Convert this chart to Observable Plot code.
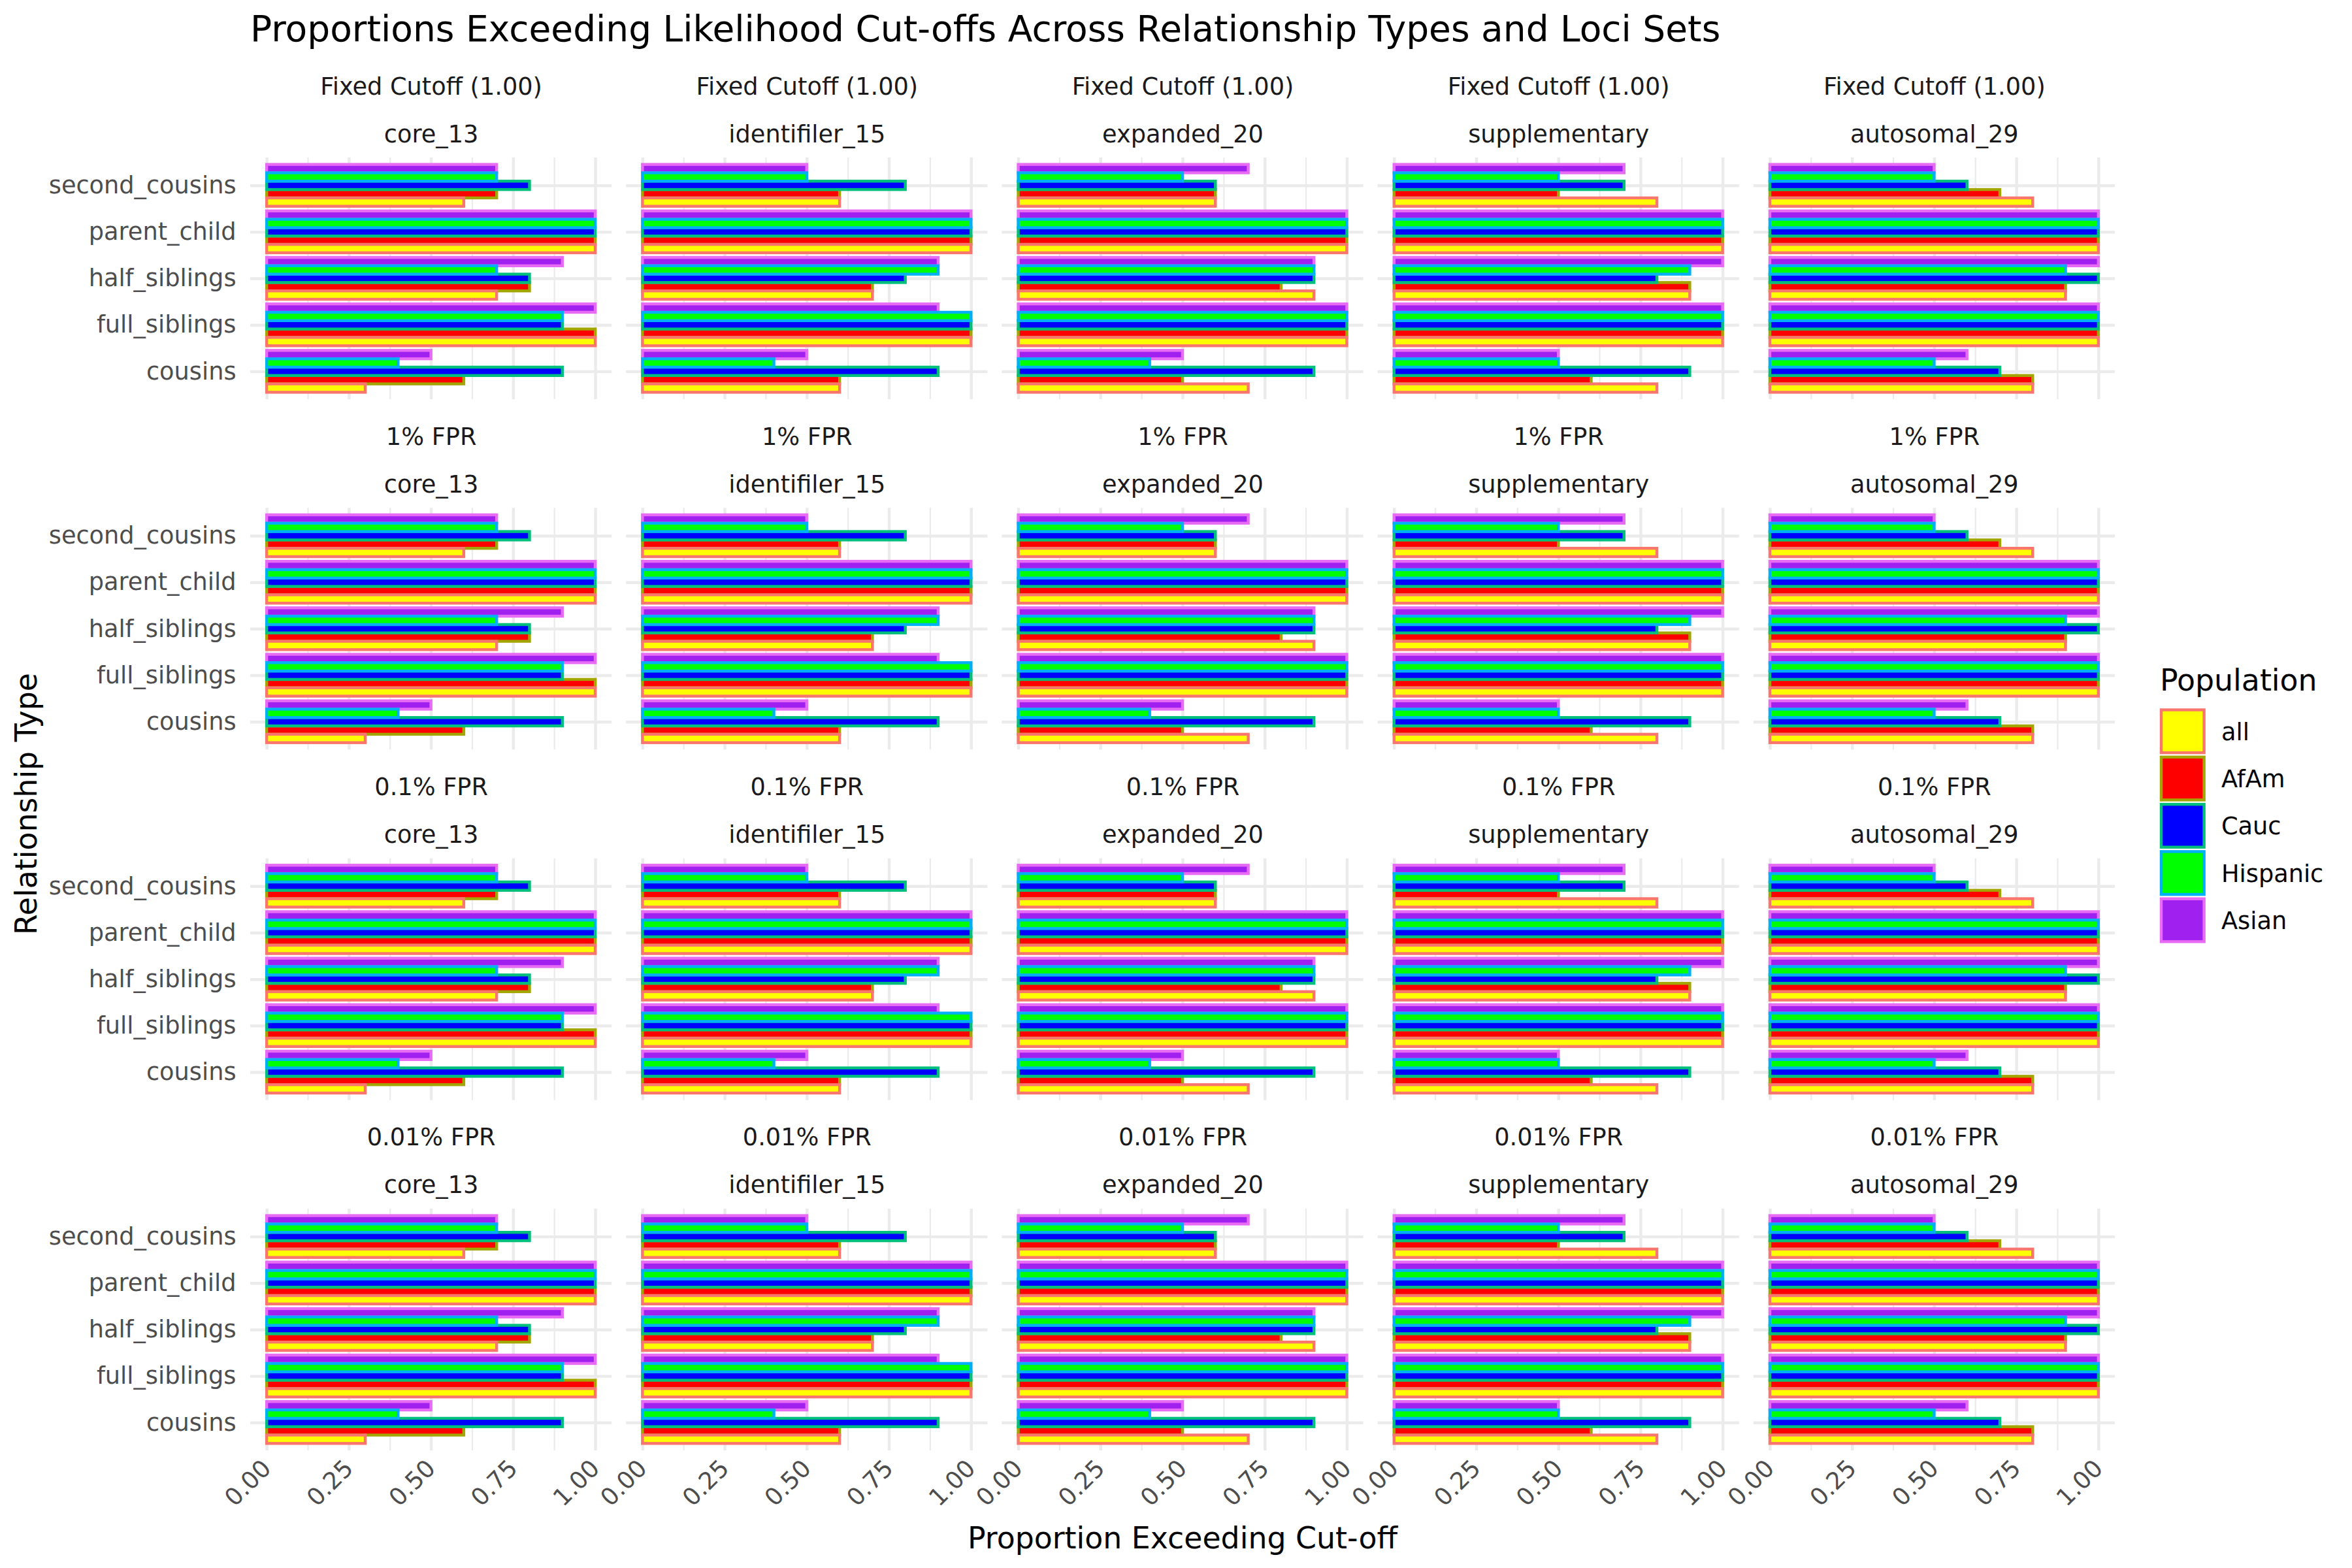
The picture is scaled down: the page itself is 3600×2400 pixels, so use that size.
<!DOCTYPE html>
<html>
<head>
<meta charset="utf-8">
<script src="https://cdn.jsdelivr.net/npm/d3@7"></script>
<script src="https://cdn.jsdelivr.net/npm/@observablehq/plot@0.6"></script>
<style>
  html, body { margin: 0; padding: 0; background: #ffffff; }
  #chart svg { display: block; }
</style>
</head>
<body>
<div id="chart"></div>
<script>
// ---------- DATA ----------
const cutoffs = ["Fixed Cutoff (1.00)", "1% FPR", "0.1% FPR", "0.01% FPR"];
const lociSets = ["core_13", "identifiler_15", "expanded_20", "supplementary", "autosomal_29"];
// top -> bottom as drawn
const relationships = ["second_cousins", "parent_child", "half_siblings", "full_siblings", "cousins"];
const populations = ["all", "AfAm", "Cauc", "Hispanic", "Asian"];
const xTicks = [0, 0.25, 0.5, 0.75, 1];
const xMinorTicks = [0.125, 0.375, 0.625, 0.875];

// proportions per population (rows: all, AfAm, Cauc, Hispanic, Asian),
// columns follow `relationships`; the same values appear under every cut-off row
const core_13 = [
  [0.6, 1.0, 0.7, 1.0, 0.3],
  [0.7, 1.0, 0.8, 1.0, 0.6],
  [0.8, 1.0, 0.8, 0.9, 0.9],
  [0.7, 1.0, 0.7, 0.9, 0.4],
  [0.7, 1.0, 0.9, 1.0, 0.5]
];
const identifiler_15 = [
  [0.6, 1.0, 0.7, 1.0, 0.6],
  [0.6, 1.0, 0.7, 1.0, 0.6],
  [0.8, 1.0, 0.8, 1.0, 0.9],
  [0.5, 1.0, 0.9, 1.0, 0.4],
  [0.5, 1.0, 0.9, 0.9, 0.5]
];
const expanded_20 = [
  [0.6, 1.0, 0.9, 1.0, 0.7],
  [0.6, 1.0, 0.8, 1.0, 0.5],
  [0.6, 1.0, 0.9, 1.0, 0.9],
  [0.5, 1.0, 0.9, 1.0, 0.4],
  [0.7, 1.0, 0.9, 1.0, 0.5]
];
const supplementary = [
  [0.8, 1.0, 0.9, 1.0, 0.8],
  [0.5, 1.0, 0.9, 1.0, 0.6],
  [0.7, 1.0, 0.8, 1.0, 0.9],
  [0.5, 1.0, 0.9, 1.0, 0.5],
  [0.7, 1.0, 1.0, 1.0, 0.5]
];
const autosomal_29 = [
  [0.8, 1.0, 0.9, 1.0, 0.8],
  [0.7, 1.0, 0.9, 1.0, 0.8],
  [0.6, 1.0, 1.0, 1.0, 0.7],
  [0.5, 1.0, 0.9, 1.0, 0.5],
  [0.5, 1.0, 1.0, 1.0, 0.6]
];
const lociValues = {core_13, identifiler_15, expanded_20, supplementary, autosomal_29};

const fillColors = ["#FFFF00", "#FF0000", "#0000FF", "#00FF00", "#A020F0"];
const strokeColors = ["#F8766D", "#A3A500", "#00BF7D", "#00B0F6", "#E76BF3"];

// ---------- TABLE ----------
const rows = [];
for (const cutoff of cutoffs)
  for (const loci of lociSets)
    populations.forEach((pop, p) =>
      relationships.forEach((rel, r) =>
        rows.push({cutoff, loci, population: pop, relationship: rel, value: lociValues[loci][p][r]})));
const strips = [];
for (const cutoff of cutoffs) for (const loci of lociSets) strips.push({cutoff, loci});

// ---------- LAYOUT ----------
const W = 3600, H = 2400;
const mL = 383, mR = 363, mT = 241, mB = 180;
const fxPadInner = 22 / 575;
const fyPadInner = 0.31;
const fyStep = (H - mT - mB) / (cutoffs.length - fyPadInner);
const facetH = fyStep * (1 - fyPadInner);
const yPadInner = 0.1, yPadOuter = 0.15;
const yStep = facetH / (relationships.length - yPadInner + 2 * yPadOuter);
const band = yStep * (1 - yPadInner);
const sub = band / populations.length;
const FONT = "DejaVu Sans";
const LW = 4.44;

// draw order (later on top) and stacking position (Asian at top of each group)
const drawOrder = ["AfAm", "Asian", "Cauc", "Hispanic", "all"];
const topToBottom = [...populations].reverse();

const barMarks = drawOrder.map(pop => {
  const k = topToBottom.indexOf(pop);
  const p = populations.indexOf(pop);
  return Plot.barX(rows.filter(d => d.population === pop), {
    x1: 0, x2: "value", y: "relationship", fx: "loci", fy: "cutoff",
    fill: fillColors[p], stroke: strokeColors[p], strokeWidth: LW,
    insetTop: k * sub, insetBottom: (populations.length - 1 - k) * sub
  });
});

const svg = Plot.plot({
  width: W, height: H,
  marginLeft: mL, marginRight: mR, marginTop: mT, marginBottom: mB,
  style: {fontFamily: FONT, fontSize: "36.7px", background: "#ffffff", color: "#000"},
  fx: {domain: lociSets, paddingInner: fxPadInner, paddingOuter: 0, round: false, axis: null, label: null},
  fy: {domain: cutoffs, paddingInner: fyPadInner, paddingOuter: 0, round: false, axis: null, label: null},
  x: {domain: [-0.05, 1.05], label: null},
  y: {type: "band", domain: relationships, paddingInner: yPadInner, paddingOuter: yPadOuter, align: 0.5, round: false, label: null},
  marks: [
    Plot.gridX(xMinorTicks, {stroke: "#EBEBEB", strokeOpacity: 1, strokeWidth: LW / 2}),
    Plot.gridX(xTicks, {stroke: "#EBEBEB", strokeOpacity: 1, strokeWidth: LW}),
    Plot.gridY(relationships, {stroke: "#EBEBEB", strokeOpacity: 1, strokeWidth: LW}),
    ...barMarks,
    Plot.axisY({tickSize: 0, tickPadding: 22, fontSize: 36.7, color: "#4D4D4D", label: null}),
    Plot.axisX(xTicks, {tickFormat: d3.format(".2f"), tickRotate: -45, tickSize: 0, tickPadding: 21,
      fontSize: 36.7, color: "#4D4D4D", label: null}),
    Plot.text(strips, {fx: "loci", fy: "cutoff", text: "cutoff", frameAnchor: "top", lineAnchor: "bottom",
      dy: -97, fontSize: 36.7, fill: "#1A1A1A"}),
    Plot.text(strips, {fx: "loci", fy: "cutoff", text: "loci", frameAnchor: "top", lineAnchor: "bottom",
      dy: -24, fontSize: 36.7, fill: "#1A1A1A"})
  ]
});

const s = d3.select(svg);
// title
s.append("text").attr("x", mL).attr("y", 63).attr("text-anchor", "start")
  .attr("font-family", FONT).attr("font-size", 55).attr("fill", "#000")
  .text("Proportions Exceeding Likelihood Cut-offs Across Relationship Types and Loci Sets");
// axis titles
s.append("text").attr("x", (mL + (W - mR)) / 2).attr("y", 2370).attr("text-anchor", "middle")
  .attr("font-family", FONT).attr("font-size", 45.8).attr("fill", "#000")
  .text("Proportion Exceeding Cut-off");
s.append("text").attr("transform", `translate(56,${(mT + (H - mB)) / 2}) rotate(-90)`).attr("text-anchor", "middle")
  .attr("font-family", FONT).attr("font-size", 45.8).attr("fill", "#000")
  .text("Relationship Type");
// legend
const lg = s.append("g").attr("font-family", FONT).attr("text-anchor", "start");
lg.append("text").attr("x", 3306).attr("y", 1057).attr("text-anchor", "start")
  .attr("font-size", 45.8).attr("fill", "#000").text("Population");
populations.forEach((pop, i) => {
  const y0 = 1086.5 + i * 72.3;
  lg.append("rect").attr("x", 3308).attr("y", y0).attr("width", 65.6).attr("height", 65.6)
    .attr("fill", fillColors[i]).attr("stroke", strokeColors[i]).attr("stroke-width", LW);
  lg.append("text").attr("x", 3400).attr("y", y0 + 32.8 + 13.5).attr("text-anchor", "start")
    .attr("font-size", 36.7).attr("fill", "#000").text(pop);
});

document.getElementById("chart").appendChild(svg);
</script>
</body>
</html>
